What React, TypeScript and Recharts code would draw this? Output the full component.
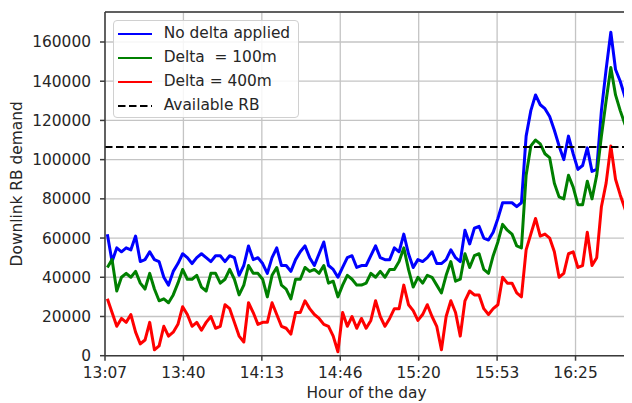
import {
  LineChart,
  Line,
  XAxis,
  YAxis,
  CartesianGrid,
  ReferenceLine,
  Legend,
} from 'recharts';

const FONT = '"DejaVu Sans", sans-serif';
const FS = 15.4;
const INK = '#262626';

// minutes after 13:07
const MINUTES = [
  1, 3, 5, 7, 9, 11, 13, 15, 17, 19,
  21, 23, 25, 27, 29, 31, 33, 35, 37, 39,
  41, 43, 45, 47, 49, 51, 53, 55, 57, 59,
  61, 63, 65, 67, 69, 71, 73, 75, 77, 79,
  81, 83, 85, 87, 89, 91, 93, 95, 97, 99,
  101, 103, 105, 107, 109, 111, 113, 115, 117, 119,
  121, 123, 125, 127, 129, 131, 133, 135, 137, 139,
  141, 143, 145, 147, 149, 151, 153, 155, 157, 159,
  161, 163, 165, 167, 169, 171, 173, 175, 177, 179,
  181, 183, 185, 187, 189, 191, 193, 195, 197, 199,
  201, 203, 205, 207, 209, 211, 213, 215, 217, 219,
  221, 223,
];

// demand in thousands of RB
const NO_DELTA_K = [
  62, 48, 55, 53, 55, 54, 61, 48, 49, 53,
  49, 48, 40, 36, 43, 47, 52, 50, 47, 50,
  52, 50, 48, 51, 51, 48, 51, 50, 41, 46,
  56, 49, 50, 47, 42, 50, 55, 46, 46, 43,
  49, 53, 56, 50, 46, 52, 58, 46, 44, 40,
  45, 50, 51, 45, 46, 46, 51, 56, 50, 49,
  49, 55, 53, 62, 52, 45, 49, 48, 50, 53,
  47, 47, 49, 54, 50, 48, 64, 57, 65, 66,
  60, 59, 63, 70, 78, 78, 78, 76, 78, 112,
  125, 133, 128, 126, 122, 115, 107, 100, 112, 103,
  95, 97, 106, 94, 95, 125, 146, 165, 146, 140,
  132, 135,
];

const DELTA_100_K = [
  45, 49, 33, 40, 42, 40, 43, 37, 34, 42,
  34, 28, 29, 27, 31, 37, 44, 39, 39, 41,
  35, 33, 42, 42, 37, 39, 44, 39, 31, 36,
  46, 42, 42, 39, 30, 41, 45, 36, 34, 29,
  39, 39, 45, 43, 44, 42, 46, 37, 38, 30,
  36, 41, 39, 36, 36, 37, 42, 40, 43, 40,
  44, 44, 48, 55, 44, 35, 40, 37, 41, 40,
  36, 32, 41, 48, 38, 39, 52, 45, 51, 52,
  44, 42, 51, 58, 67, 64, 62, 56, 55, 92,
  107, 110, 108, 103, 101, 88, 81, 80, 92, 86,
  77, 77, 89, 80, 92, 112, 130, 147, 133, 125,
  118, 117,
];

const DELTA_400_K = [
  29, 22, 15, 19, 17, 21, 12, 6, 8, 17,
  3, 5, 15, 10, 12, 16, 25, 21, 15, 17,
  13, 17, 20, 14, 15, 26, 24, 17, 10, 7,
  27, 22, 16, 17, 17, 27, 21, 15, 14, 11,
  22, 22, 28, 24, 21, 19, 16, 15, 10, 2,
  22, 15, 20, 14, 19, 14, 18, 28, 20, 15,
  19, 24, 24, 36, 26, 23, 18, 21, 26, 20,
  15, 3, 20, 28, 22, 10, 28, 33, 31, 31,
  24, 21, 24, 26, 40, 37, 37, 32, 30, 54,
  62, 70, 61, 62, 60, 53, 40, 42, 52, 53,
  45, 46, 63, 46, 50, 76, 88, 107, 90, 82,
  75, 68,
];

const AVAILABLE_RB = 106500;

const X_TICKS = [0, 100 / 3, 200 / 3, 100, 400 / 3, 500 / 3, 200];
const X_LABELS = ['13:07', '13:40', '14:13', '14:46', '15:20', '15:53', '16:25'];
const Y_TICKS = [0, 20000, 40000, 60000, 80000, 100000, 120000, 140000, 160000];

const SERIES_NAMES = ['No delta applied', 'Delta  = 100m', 'Delta = 400m', 'Available RB'];
const SERIES_COLORS = ['#0000ff', '#008000', '#ff0000', '#000000'];

const data = MINUTES.map((t, i) => ({
  t,
  noDelta: NO_DELTA_K[i] * 1000,
  delta100: DELTA_100_K[i] * 1000,
  delta400: DELTA_400_K[i] * 1000,
}));

function xLabel(v: number) {
  let best = 0;
  X_TICKS.forEach((x, i) => {
    if (Math.abs(x - v) < Math.abs(X_TICKS[best] - v)) best = i;
  });
  return X_LABELS[best];
}

function LegendBox() {
  return (
    <div
      style={{
        width: 186,
        height: 98,
        boxSizing: 'border-box',
        border: '1px solid #d0d0d0',
        borderRadius: 4,
        background: 'rgba(255,255,255,0.85)',
        paddingTop: 1,
        fontFamily: FONT,
        fontSize: FS,
        color: INK,
      }}
    >
      {SERIES_NAMES.map((name, i) => (
        <div key={name} style={{ display: 'flex', alignItems: 'center', height: 24 }}>
          <svg width={34} height={4} style={{ marginLeft: 4, display: 'block' }}>
            <line
              x1={0}
              y1={2}
              x2={34}
              y2={2}
              stroke={SERIES_COLORS[i]}
              strokeWidth={2}
              strokeDasharray={i === 3 ? '7.5 3.5' : undefined}
            />
          </svg>
          <span style={{ marginLeft: 12, whiteSpace: 'pre', lineHeight: 1 }}>{name}</span>
        </div>
      ))}
    </div>
  );
}

function YTitle(props: any) {
  const vb = props.viewBox || { y: 0, height: 0 };
  const cy = vb.y + vb.height / 2;
  return (
    <text
      x={14.5}
      y={cy}
      transform={`rotate(-90, 14.5, ${cy})`}
      textAnchor="middle"
      fontFamily={FONT}
      fontSize={FS}
      fill={INK}
    >
      Downlink RB demand
    </text>
  );
}

function XTitle(props: any) {
  const vb = props.viewBox || { x: 0, width: 0 };
  return (
    <text
      x={vb.x + vb.width / 2 - 2}
      y={389.5}
      textAnchor="middle"
      fontFamily={FONT}
      fontSize={FS}
      fill={INK}
    >
      Hour of the day
    </text>
  );
}

const tickStyle = { fill: INK, fontSize: FS, fontFamily: FONT };
const axisStroke = { stroke: '#3a3a3a', strokeWidth: 1.5 };

export default function App() {
  return (
    <div style={{ width: 624, height: 395, overflow: 'hidden', background: '#fff' }}>
      <LineChart
        width={624}
        height={395}
        data={data}
        margin={{ top: 4, right: 0, bottom: 0, left: 0 }}
      >
        <CartesianGrid stroke="#c4c4c4" strokeWidth={1.3} />
        <XAxis
          type="number"
          dataKey="t"
          domain={[0, 224]}
          allowDataOverflow
          ticks={X_TICKS}
          interval={0}
          tickFormatter={xLabel}
          tick={tickStyle}
          tickSize={5}
          tickMargin={6}
          axisLine={axisStroke}
          tickLine={axisStroke}
          height={47.3}
          label={XTitle}
        />
        <YAxis
          type="number"
          domain={[0, 175300]}
          allowDataOverflow
          ticks={Y_TICKS}
          interval={0}
          tick={tickStyle}
          tickSize={5}
          tickMargin={9}
          axisLine={axisStroke}
          tickLine={axisStroke}
          width={97}
          label={YTitle}
        />
        <ReferenceLine y={175300} stroke="#3a3a3a" strokeWidth={1.5} />
        <Line
          type="linear"
          dataKey="noDelta"
          name={SERIES_NAMES[0]}
          stroke={SERIES_COLORS[0]}
          strokeWidth={3}
          strokeLinejoin="round"
          dot={false}
          isAnimationActive={false}
        />
        <Line
          type="linear"
          dataKey="delta100"
          name={SERIES_NAMES[1]}
          stroke={SERIES_COLORS[1]}
          strokeWidth={3}
          strokeLinejoin="round"
          dot={false}
          isAnimationActive={false}
        />
        <Line
          type="linear"
          dataKey="delta400"
          name={SERIES_NAMES[2]}
          stroke={SERIES_COLORS[2]}
          strokeWidth={3}
          strokeLinejoin="round"
          dot={false}
          isAnimationActive={false}
        />
        <ReferenceLine
          y={AVAILABLE_RB}
          stroke={SERIES_COLORS[3]}
          strokeWidth={2}
          strokeDasharray="7.5 3.5"
        />
        <Legend
          layout="vertical"
          align="center"
          verticalAlign="middle"
          content={() => <LegendBox />}
          wrapperStyle={{ top: 12, left: 104.7, width: 'auto', height: 'auto' }}
        />
      </LineChart>
    </div>
  );
}
